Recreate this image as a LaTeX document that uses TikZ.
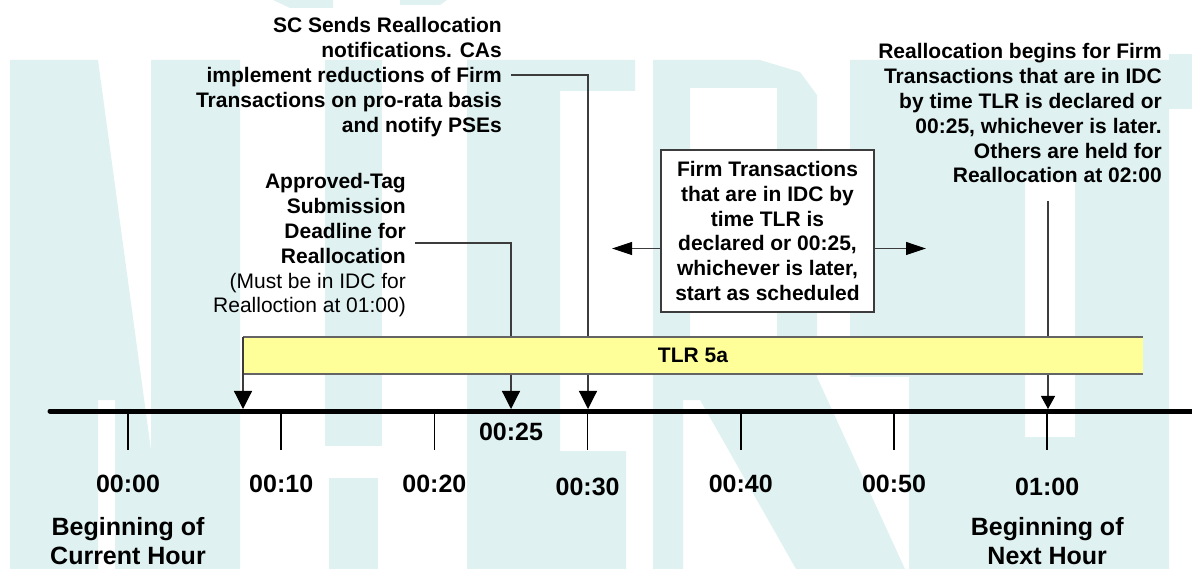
\documentclass[tikz,border=0pt]{standalone}
\usepackage{fontspec}
\setmainfont{Liberation Sans}
\usetikzlibrary{arrows.meta}
\definecolor{wm}{RGB}{223,242,241}
\definecolor{barfill}{RGB}{255,255,153}
\definecolor{lgray}{RGB}{60,60,60}
\definecolor{bgray}{RGB}{100,100,100}
\begin{document}
\begin{tikzpicture}[x=1pt,y=-1pt,
  lbl/.style={font=\fontsize{21}{24.8}\selectfont\bfseries, inner sep=0pt, align=right, anchor=north east},
  big/.style={font=\fontsize{25}{29}\selectfont\bfseries, inner sep=0pt, align=center},
  conn/.style={draw=lgray, line width=1.2pt},
  tickline/.style={line width=1.5pt},
  bigtip/.style={-{Triangle[length=18pt,width=18pt,color=black]}},
  smalltip/.style={-{Triangle[length=13pt,width=14pt,color=black]}},
  sidetip/.style={-{Triangle[length=20pt,width=13pt,color=black]}}
  ]
\useasboundingbox (0,0) rectangle (1192,569);
% watermark
\fill[wm] (10,60) -- (98,60) -- (151,450) -- (151,60) -- (240,60) -- (240,569) -- (115,569) -- (115,400) -- (98,400) -- (98,569) -- (10,569) -- cycle;
\fill[wm] (325,60) rectangle (382,446);
\fill[wm] (329,478) rectangle (378,569);
\fill[wm] (467,60) -- (635,60) -- (635,91) -- (560,91) -- (560,451) -- (626,451) -- (626,569) -- (467,569) -- cycle;
\fill[wm, even odd rule] (653,60) -- (760,60) -- (800,72) -- (817,95) -- (817,377) -- (905,569) -- (796,569) -- (700,400) -- (683,400) -- (683,569) -- (653,569) -- cycle (690,88) rectangle (777,362);
\fill[wm, even odd rule] (850,60) -- (1169,60) -- (1169,569) -- (909,569) -- (909,377) -- (850,377) -- cycle (1025,181) rectangle (1075,437);
\fill[wm] (1169,54) rectangle (1192,109);
\fill[wm] (273,0) -- (333,0) -- (333,8) -- (290,8) -- cycle;
\fill[wm] (400,0) -- (447,0) -- (440,5) -- (400,5) -- cycle;

% coordinates
\coordinate (t7) at (243,409);
\coordinate (t25) at (511,409);
\coordinate (t30) at (588,409);
\coordinate (t60) at (1048,409);
\coordinate (bs) at (243,374);
\coordinate (scj) at (511,75);
\coordinate (apj) at (415,243);
\coordinate (rtop) at (1048,201);
\coordinate (la) at (612,248.5);
\coordinate (ra) at (926,248.5);
\coordinate (tlstart) at (50,411);
\coordinate (tlend) at (1192,411);

% text blocks
\node[lbl] (sc) at (502,17.5) {SC Sends Reallocation\\notifications. CAs\\implement reductions of Firm\\Transactions on pro-rata basis\\and notify PSEs};
\node[lbl] (ap) at (406,173.5) {Approved-Tag\\Submission\\Deadline for\\Reallocation\\\mdseries(Must be in IDC for\\\mdseries Realloction at 01:00)};
\node[lbl] (rb) at (1162,43.5) {Reallocation begins for Firm\\Transactions that are in IDC\\by time TLR is declared or\\00:25, whichever is later.\\Others are held for\\Reallocation at 02:00};
\node[draw=lgray, line width=1.5pt, fill=white, minimum width=213pt, minimum height=162pt, inner sep=0pt, align=center, font=\fontsize{21}{24.8}\selectfont\bfseries] (box) at (767.5,231) {Firm Transactions\\that are in IDC by\\time TLR is\\declared or 00:25,\\whichever is later,\\start as scheduled};

% connectors
\draw[conn, bigtip] (scj) -| (t30);
\draw[conn, bigtip] (apj) -| (t25);
\draw[conn, smalltip] (rtop) -- (t60);
\draw[conn, sidetip] (box.west |- la) -- (la);
\draw[conn, sidetip] (box.east |- ra) -- (ra);

% TLR bar
\fill[barfill] (243,337) rectangle (1143,374);
\draw[bgray, line width=1.2pt] (1143,337) -- (243,337);
\draw[bgray, line width=1.2pt] (243,374) -- (1143,374);
\draw[lgray, line width=1.2pt] (243,337) -- (243,374);
\node[font=\fontsize{21}{24.8}\selectfont\bfseries, inner sep=0pt] (tlr) at (693,355) {TLR 5a};
\draw[conn, bigtip] (bs) -- (t7);

% timeline
\draw[line width=5pt, line cap=round] (tlstart) -- (tlend);
\foreach \x in {128,281.2,434.4,587.6,740.8,894,1047.2}{
  \draw[tickline] (\x,411) -- (\x,450);
}
\node[big] (l00) at (128,484) {00:00};
\node[big] (l10) at (281.2,484) {00:10};
\node[big] (l20) at (434.4,484) {00:20};
\node[big] (l30) at (587.6,487) {00:30};
\node[big] (l40) at (740.8,484) {00:40};
\node[big] (l50) at (894,484) {00:50};
\node[big] (l60) at (1047.2,487) {01:00};
\node[big] (l25) at (511,432) {00:25};
\node[big] (cur) at (128,541) {Beginning of\\Current Hour};
\node[big] (nxt) at (1047.2,541) {Beginning of\\Next Hour};
\end{tikzpicture}
\end{document}
